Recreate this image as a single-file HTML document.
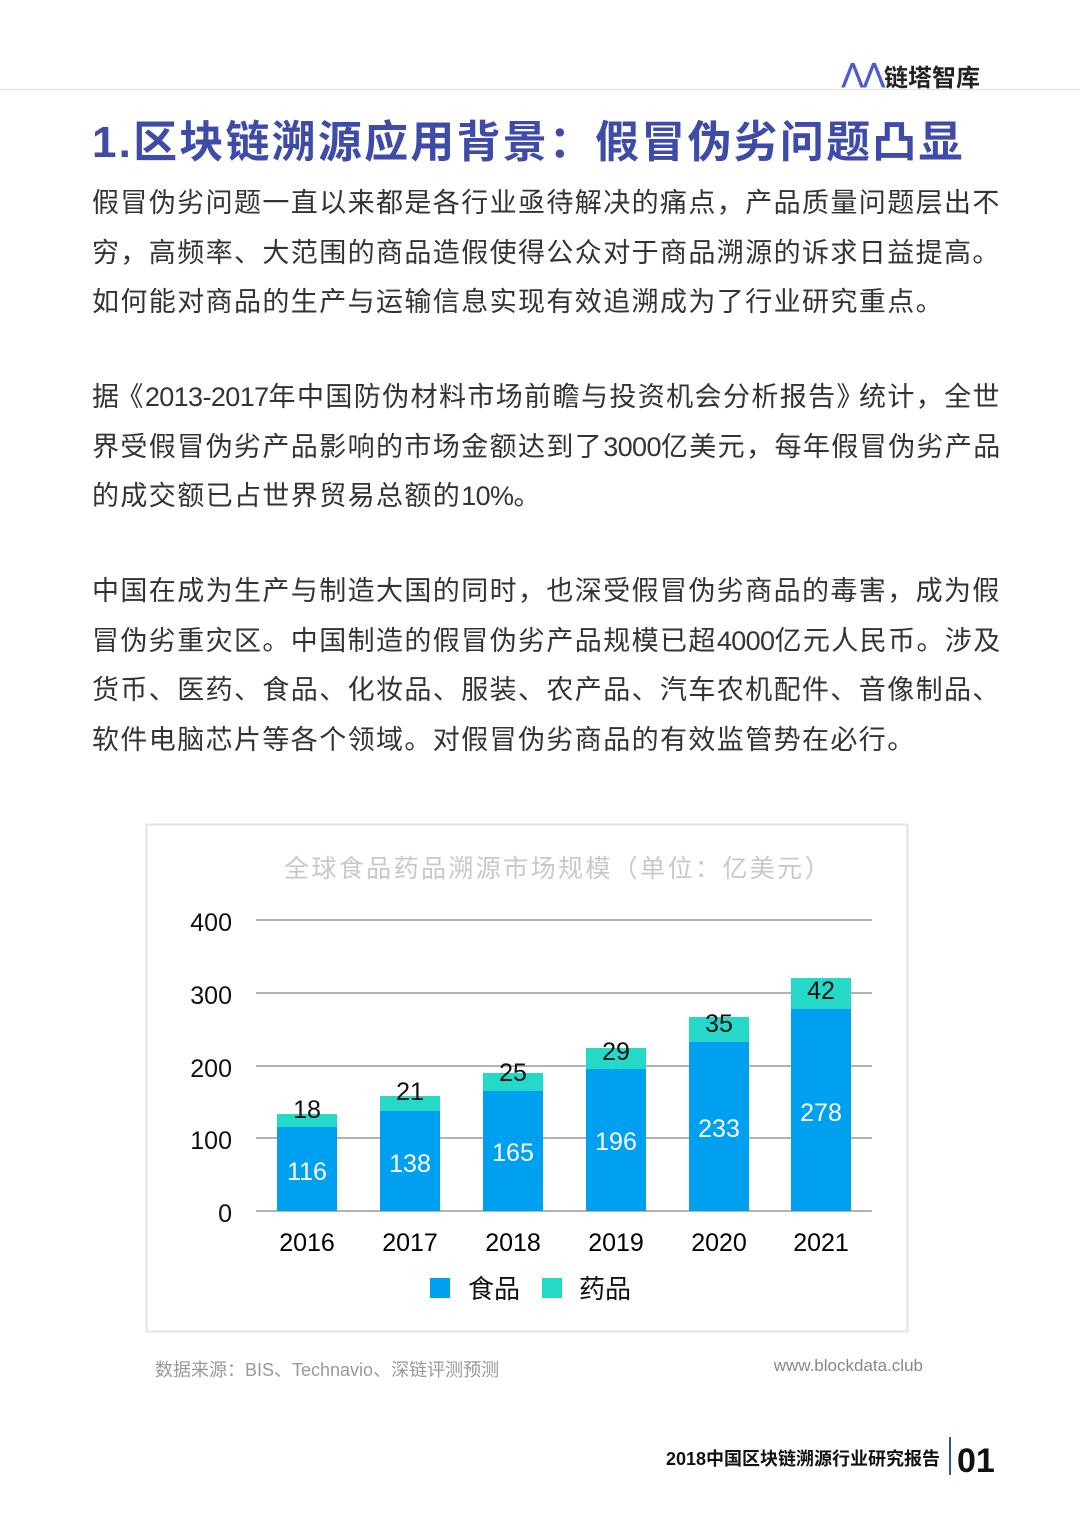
<!DOCTYPE html>
<html><head><meta charset="utf-8"><style>
body{margin:0;width:1080px;height:1527px;background:#fff;position:relative;overflow:hidden;font-family:"Liberation Sans","Noto Sans CJK SC",sans-serif}
.p{position:absolute;left:92px;font-size:27px;color:#333;line-height:49.5px;white-space:nowrap;letter-spacing:1.4px}
.d{letter-spacing:-0.6px}
</style></head><body>
<div style="position:absolute;left:842px;top:58px;font-size:24px;font-weight:bold;color:#222"><span style="color:#4a5bd0;font-size:26px">⋀⋀</span></div>
<div style="position:absolute;left:884px;top:58px;font-size:24px;font-weight:bold;color:#222">链塔智库</div>
<div style="position:absolute;left:0;top:89px;width:1080px;height:1px;background:#e2e2e2"></div>
<div style="position:absolute;left:92px;top:106px;font-size:44px;font-weight:bold;color:#3f4ba8;white-space:nowrap;letter-spacing:2.2px">1.区块链溯源应用背景：假冒伪劣问题凸显</div>
<div class="p" style="top:179px">假冒伪劣问题一直以来都是各行业亟待解决的痛点，产品质量问题层出不<br>穷，高频率、大范围的商品造假使得公众对于商品溯源的诉求日益提高。<br>如何能对商品的生产与运输信息实现有效追溯成为了行业研究重点。</div>
<div class="p" style="top:373px">据<span style="margin-left:-4px">《</span><span class="d">2013-2017</span>年中国防伪材料市场前瞻与投资机会分析报告<span style="margin-right:-6px">》</span>统计，全世<br>界受假冒伪劣产品影响的市场金额达到了<span class="d">3000</span>亿美元，每年假冒伪劣产品<br>的成交额已占世界贸易总额的<span class="d">10%</span>。</div>
<div class="p" style="top:567px">中国在成为生产与制造大国的同时，也深受假冒伪劣商品的毒害，成为假<br>冒伪劣重灾区。中国制造的假冒伪劣产品规模已超<span class="d">4000</span>亿元人民币。涉及<br>货币、医药、食品、化妆品、服装、农产品、汽车农机配件、音像制品、<br>软件电脑芯片等各个领域。对假冒伪劣商品的有效监管势在必行。</div>
<svg width="1080" height="1527" style="position:absolute;left:0;top:0" font-family="Liberation Sans, Noto Sans CJK SC, sans-serif">
<rect x="146.5" y="824.5" width="761" height="507" fill="none" stroke="#e3e3e3" stroke-width="2"/>
<text x="558" y="877" font-size="25" fill="#c8c8c8" text-anchor="middle" letter-spacing="2.4">全球食品药品溯源市场规模（单位：亿美元）</text>
<g stroke="#999" stroke-width="1.5">
<line x1="256" y1="920" x2="872" y2="920"/><line x1="256" y1="993" x2="872" y2="993"/><line x1="256" y1="1066" x2="872" y2="1066"/><line x1="256" y1="1138" x2="872" y2="1138"/><line x1="256" y1="1211" x2="872" y2="1211"/></g>
<g font-size="25" fill="#111" text-anchor="end">
<text x="232" y="931">400</text><text x="232" y="1004">300</text><text x="232" y="1077">200</text><text x="232" y="1149">100</text><text x="232" y="1222">0</text></g>
<g font-size="25" text-anchor="middle">
<rect x="277" y="1127" width="60" height="84" fill="#00a0f0"/><rect x="277" y="1114" width="60" height="13" fill="#24d9c8"/>
<rect x="380" y="1111" width="60" height="100" fill="#00a0f0"/><rect x="380" y="1096" width="60" height="15" fill="#24d9c8"/>
<rect x="483" y="1091" width="60" height="120" fill="#00a0f0"/><rect x="483" y="1073" width="60" height="18" fill="#24d9c8"/>
<rect x="586" y="1069" width="60" height="142" fill="#00a0f0"/><rect x="586" y="1048" width="60" height="21" fill="#24d9c8"/>
<rect x="689" y="1042" width="60" height="169" fill="#00a0f0"/><rect x="689" y="1017" width="60" height="25" fill="#24d9c8"/>
<rect x="791" y="1009" width="60" height="202" fill="#00a0f0"/><rect x="791" y="978" width="60" height="31" fill="#24d9c8"/>
<g fill="#fff"><text x="307" y="1180">116</text><text x="410" y="1172">138</text><text x="513" y="1161">165</text><text x="616" y="1150">196</text><text x="719" y="1137">233</text><text x="821" y="1121">278</text></g>
<g fill="#111"><text x="307" y="1118">18</text><text x="410" y="1100">21</text><text x="513" y="1081">25</text><text x="616" y="1060">29</text><text x="719" y="1032">35</text><text x="821" y="999">42</text></g>
<text x="307" y="1251">2016</text><text x="410" y="1251">2017</text><text x="513" y="1251">2018</text><text x="616" y="1251">2019</text><text x="719" y="1251">2020</text><text x="821" y="1251">2021</text>
</g>
<rect x="430" y="1278" width="20" height="20" fill="#00a0f0"/><text x="468" y="1298" font-size="26" fill="#111">食品</text>
<rect x="542" y="1278" width="20" height="20" fill="#24d9c8"/><text x="579" y="1298" font-size="26" fill="#111">药品</text>
<text x="155" y="1376" font-size="18" fill="#999">数据来源：BIS、Technavio、深链评测预测</text>
<text x="923" y="1371" font-size="17" fill="#888" text-anchor="end">www.blockdata.club</text>
<text x="940" y="1465" font-size="18" font-weight="bold" fill="#111" text-anchor="end">2018中国区块链溯源行业研究报告</text>
<line x1="950" y1="1437" x2="950" y2="1475" stroke="#3f4ba8" stroke-width="2"/>
<text x="957" y="1472" font-size="34" font-weight="bold" fill="#111">01</text>
</svg>
</body></html>
